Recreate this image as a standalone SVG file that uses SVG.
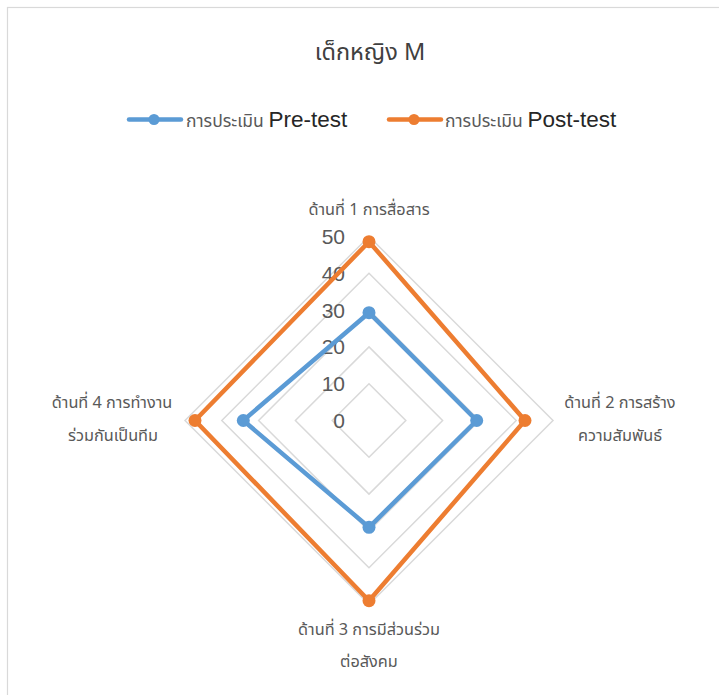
<svg xmlns="http://www.w3.org/2000/svg" width="719" height="695" viewBox="0 0 719 695">
<style>
.bg{fill:#ffffff}
.frame{fill:#ffffff;stroke:#d9d9d9;stroke-width:1.2}
.grid{fill:none;stroke:#d9d9d9;stroke-width:1.5}
.tick{font-family:"Liberation Sans","Noto Sans",sans-serif;font-size:21px;fill:#595959;text-anchor:end}
.cat{font-family:"Noto Sans Thai","Leelawadee UI",Tahoma,"Liberation Sans","Noto Sans",sans-serif;font-size:16.3px;fill:#595959;text-anchor:middle}
.title{font-family:"Noto Sans Thai","Leelawadee UI",Tahoma,"Liberation Sans","Noto Sans",sans-serif;font-size:23.5px;fill:#404040;text-anchor:middle}
.lgth{font-family:"Noto Sans Thai","Leelawadee UI",Tahoma,"Liberation Sans","Noto Sans",sans-serif;font-size:17.5px;fill:#595959}
.lgen{font-family:"Liberation Sans","Noto Sans",sans-serif;font-size:22.5px;fill:#262626}
.pre{fill:none;stroke:#5b9bd5;stroke-width:4.5;stroke-linejoin:round;stroke-linecap:round}
.post{fill:none;stroke:#ed7d31;stroke-width:4.5;stroke-linejoin:round;stroke-linecap:round}
.dpre{fill:#5b9bd5}
.dpost{fill:#ed7d31}
</style>
<rect class="bg" x="0" y="0" width="719" height="695"/>
<rect class="frame" x="7.5" y="7.5" width="760" height="740"/>

<g id="title"><text class="title" x="370" y="60">เด็กหญิง M</text></g>

<g id="legend">
  <line class="pre" x1="129" y1="119.5" x2="181" y2="119.5"/>
  <circle class="dpre" cx="154" cy="119.5" r="5.5"/>
  <text x="186" y="127"><tspan class="lgth">การประเมิน </tspan><tspan class="lgen">Pre-test</tspan></text>
  <line class="post" x1="389" y1="119.5" x2="441" y2="119.5"/>
  <circle class="dpost" cx="414" cy="119.5" r="5.5"/>
  <text x="445" y="127"><tspan class="lgth">การประเมิน </tspan><tspan class="lgen">Post-test</tspan></text>
</g>

<g id="grid">
  <polygon class="grid" points="369,383.7 405.8,420.5 369,457.3 332.2,420.5"/>
  <polygon class="grid" points="369,346.9 442.6,420.5 369,494.1 295.4,420.5"/>
  <polygon class="grid" points="369,310.1 479.4,420.5 369,530.9 258.6,420.5"/>
  <polygon class="grid" points="369,273.3 516.2,420.5 369,567.7 221.8,420.5"/>
  <polygon class="grid" points="369,236.5 553,420.5 369,604.5 185,420.5"/>
</g>

<g id="ticks">
  <text class="tick" x="345" y="428">0</text>
  <text class="tick" x="345" y="391.2">10</text>
  <text class="tick" x="345" y="354.4">20</text>
  <text class="tick" x="345" y="317.6">30</text>
  <text class="tick" x="345" y="280.8">40</text>
  <text class="tick" x="345" y="244">50</text>
</g>

<g id="axis-1"><text class="cat" x="369" y="215">ด้านที่ 1 การสื่อสาร</text></g>
<g id="axis-2"><text class="cat" x="620" y="408">ด้านที่ 2 การสร้าง</text><text class="cat" x="620" y="441">ความสัมพันธ์</text></g>
<g id="axis-3"><text class="cat" x="369" y="635">ด้านที่ 3 การมีส่วนร่วม</text><text class="cat" x="369" y="667">ต่อสังคม</text></g>
<g id="axis-4"><text class="cat" x="112" y="408">ด้านที่ 4 การทำงาน</text><text class="cat" x="113" y="441">ร่วมกันเป็นทีม</text></g>

<g id="connectors">
  <polygon class="post" points="369,241.7 525,420.5 369,600.7 195,420.5"/>
  <polygon class="pre" points="369,312.7 476.7,420.5 369,527.3 243.3,420.5"/>
</g>

<g id="series-post">
  <circle class="dpost" cx="369" cy="241.7" r="6.5"/>
  <circle class="dpost" cx="525" cy="420.5" r="6.5"/>
  <circle class="dpost" cx="369" cy="600.7" r="6.5"/>
  <circle class="dpost" cx="195" cy="420.5" r="6.5"/>
</g>
<g id="series-pre">
  <circle class="dpre" cx="369" cy="312.7" r="6.5"/>
  <circle class="dpre" cx="476.7" cy="420.5" r="6.5"/>
  <circle class="dpre" cx="369" cy="527.3" r="6.5"/>
  <circle class="dpre" cx="243.3" cy="420.5" r="6.5"/>
</g>
</svg>
